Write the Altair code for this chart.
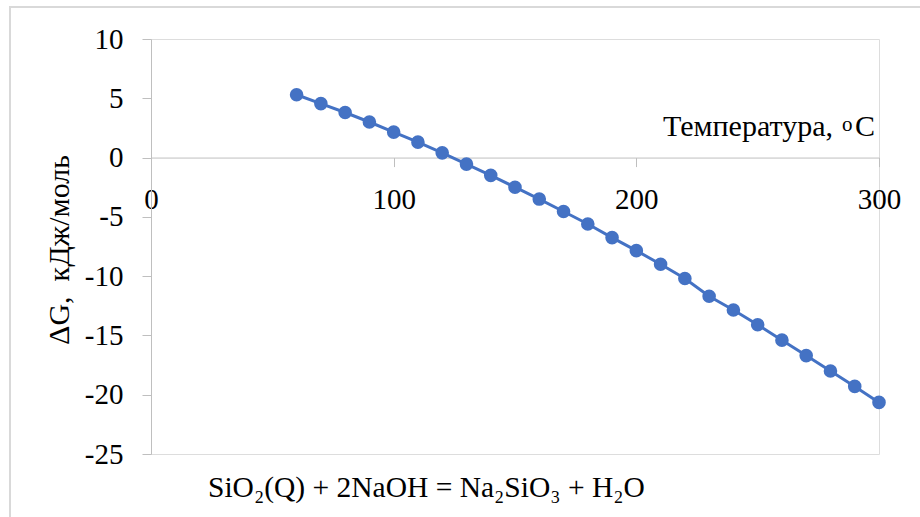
import altair as alt
import pandas as pd

temperature = [60, 70, 80, 90, 100, 110, 120, 130, 140, 150, 160, 170, 180,
               190, 200, 210, 220, 230, 240, 250, 260, 270, 280, 290, 300]
delta_g = [5.3, 4.55, 3.8, 3.0, 2.15, 1.3, 0.4, -0.55, -1.5, -2.5, -3.5, -4.55,
           -5.6, -6.75, -7.85, -9.0, -10.2, -11.7, -12.85, -14.1, -15.4, -16.7,
           -18.0, -19.3, -20.65]
x_ticks = [0, 100, 200, 300]
y_ticks = [-25, -20, -15, -10, -5, 0, 5, 10]
x_title = "Температура,"
y_title = "ΔG,\u00a0\u00a0кДж/моль"
equation = "SiO₂(Q) + 2NaOH = Na₂SiO₃ + H₂O"

df = pd.DataFrame({"t": temperature, "g": delta_g})

W, H = 728, 415
PL, PT = 151, 39
FONT = "Liberation Serif"
BLUE = "#4472C4"
GRAY = "#BFBFBF"
LBL = 29

y_zero_px = H * (10 - 0) / (10 - (-25))
x_offset = -(H - y_zero_px)

x_enc = alt.X("t:Q", scale=alt.Scale(domain=[0, 300], nice=False),
              axis=alt.Axis(values=x_ticks, title=None, grid=False, offset=x_offset,
                            domainColor=GRAY, tickColor=GRAY, tickSize=9,
                            labelPadding=19, labelFont=FONT, labelFontSize=LBL,
                            labelColor="black", labelFlush=False,
                            labelExpr="toString(datum.value)"))
y_enc = alt.Y("g:Q", scale=alt.Scale(domain=[-25, 10], nice=False),
              axis=alt.Axis(values=y_ticks, title=None, grid=False,
                            domainColor=GRAY, tickColor=GRAY, tickSize=9,
                            labelPadding=19, labelFont=FONT, labelFontSize=LBL,
                            labelColor="black",
                            labelExpr="toString(datum.value)"))

line = alt.Chart(df).mark_line(color=BLUE, strokeWidth=3).encode(x=x_enc, y=y_enc)
pts = alt.Chart(df).mark_point(filled=True, color=BLUE, size=185, opacity=1).encode(
    x=x_enc, y=y_enc)

border = alt.Chart(df).mark_rect(fillOpacity=0, stroke="#D9D9D9", strokeWidth=1.5).encode(
    x=alt.value(10 - PL), x2=alt.value(930 - PL),
    y=alt.value(7 - PT), y2=alt.value(530 - PT))

def txt(text, x, y, size=30, align="left", angle=None, baseline="alphabetic"):
    kw = dict(text=text, font=FONT, fontSize=size, align=align, baseline=baseline,
              color="black")
    if angle is not None:
        kw["angle"] = angle
    return alt.Chart(pd.DataFrame({"a": [0]})).mark_text(**kw).encode(
        x=alt.value(x - PL), y=alt.value(y - PT))

t1 = txt(x_title, 833, 136, align="right")
t2 = txt("o", 842, 131, size=21)
t3 = txt("C", 855, 136)
ytitle = txt(y_title, 60, 250, align="center", angle=270, baseline="middle")
eq = txt(equation, 208, 497, size=29.5)

chart = alt.layer(border, line, pts, t1, t2, t3, ytitle, eq).properties(
    width=W, height=H,
    autosize=alt.AutoSizeParams(type="none"),
    padding={"left": PL, "top": PT, "right": 920 - PL - W, "bottom": 517 - PT - H},
).configure_view(stroke=None).configure_axis(
    labelFont=FONT, labelFontSize=LBL, labelColor="black"
).configure(background="white")

chart.save("out.html", embed_options={"renderer": "svg", "actions": False})
